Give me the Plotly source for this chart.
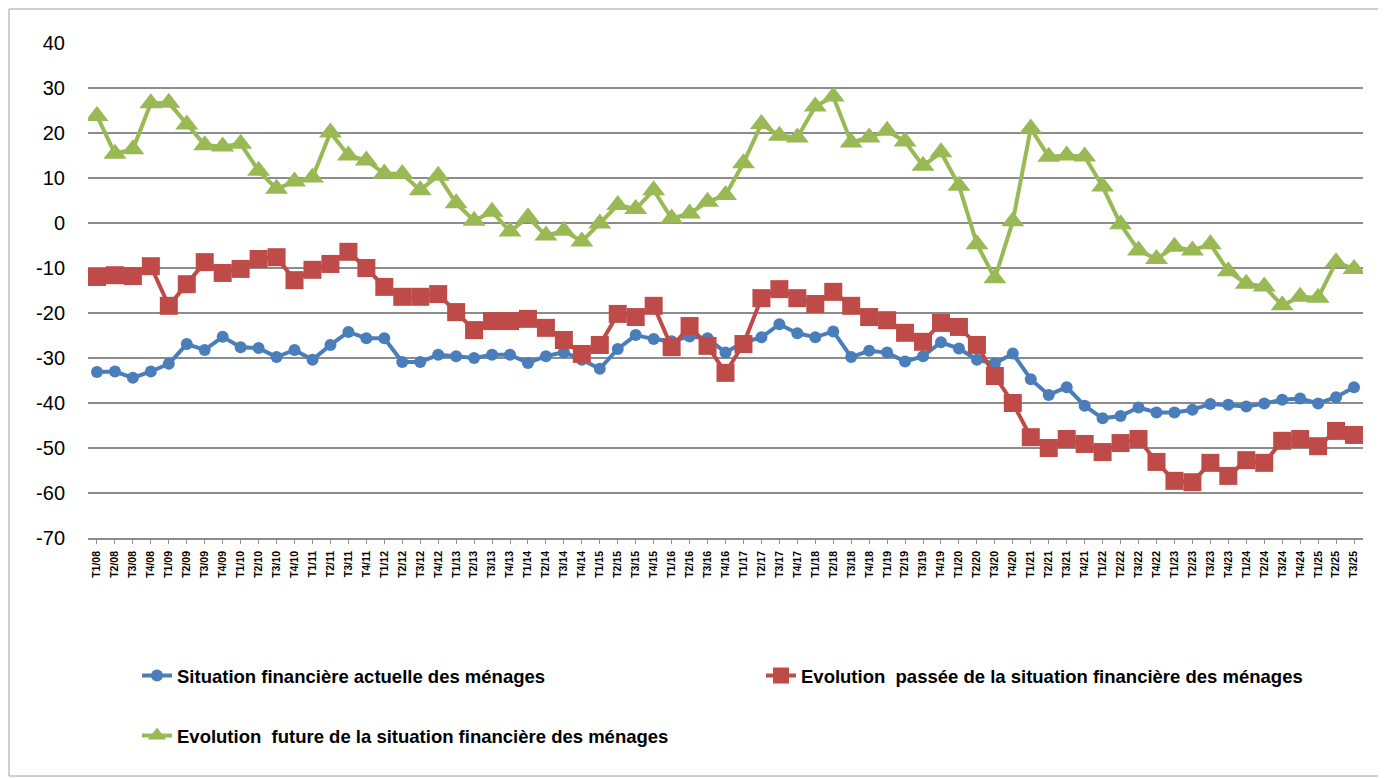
import plotly.graph_objects as go

years = list(range(8, 26))
quarters = []
for yy in years:
    for q in range(1, 5):
        if yy == 25 and q > 3:
            break
        quarters.append(f"T{q}/{yy:02d}")

actuelle = [-33.1, -33.0, -34.4, -33.0, -31.3, -26.9, -28.2, -25.3, -27.6, -27.8,
            -29.8, -28.2, -30.4, -27.1, -24.2, -25.6, -25.6, -30.9, -30.9, -29.3,
            -29.6, -30.0, -29.3, -29.3, -31.1, -29.6, -28.7, -30.4, -32.4, -28.0,
            -24.9, -25.8, -26.3, -25.2, -25.6, -28.8, -26.5, -25.4, -22.5, -24.5,
            -25.4, -24.1, -29.8, -28.4, -28.8, -30.8, -29.6, -26.5, -27.9, -30.4,
            -31.2, -29.0, -34.7, -38.2, -36.5, -40.6, -43.4, -42.9, -41.0, -42.1,
            -42.1, -41.5, -40.2, -40.4, -40.8, -40.1, -39.3, -39.0, -40.1, -38.7,
            -36.5]

passee = [-12.0, -11.6, -11.8, -9.6, -18.4, -13.6, -8.7, -11.1, -10.2, -8.0,
          -7.6, -12.7, -10.4, -9.1, -6.4, -10.0, -14.2, -16.4, -16.4, -15.8,
          -19.8, -23.8, -21.8, -21.8, -21.3, -23.3, -26.0, -29.1, -27.1, -20.2,
          -20.9, -18.4, -27.6, -22.9, -27.3, -33.3, -26.9, -16.7, -14.7, -16.7,
          -18.0, -15.3, -18.4, -20.9, -21.6, -24.4, -26.4, -22.2, -23.1, -27.1,
          -34.0, -40.0, -47.6, -50.0, -48.0, -49.1, -50.9, -48.9, -48.0, -53.1,
          -57.3, -57.6, -53.3, -56.2, -52.7, -53.3, -48.4, -48.0, -49.6, -46.2,
          -47.1]

future = [23.8, 15.4, 16.4, 26.6, 26.7, 21.9, 17.3, 17.0, 17.6, 11.6,
          7.6, 9.2, 10.1, 20.1, 15.0, 13.9, 11.0, 10.9, 7.3, 10.5,
          4.4, 0.5, 2.5, -1.9, 1.3, -2.8, -1.7, -4.1, -0.1, 4.0,
          3.1, 7.3, 1.0, 2.1, 4.7, 6.2, 13.3, 22.0, 19.4, 19.0,
          25.9, 28.1, 17.9, 19.0, 20.5, 18.1, 12.7, 15.7, 8.3, -4.7,
          -12.3, 0.4, 21.0, 14.7, 15.0, 14.8, 8.1, -0.3, -6.1, -8.0,
          -5.3, -6.1, -4.7, -10.7, -13.5, -14.1, -18.3, -16.4, -16.6, -8.7,
          -10.2]

series_names = [
    "Situation financière actuelle des ménages",
    "Evolution  passée de la situation financière des ménages",
    "Evolution  future de la situation financière des ménages",
]

y_tick_vals = [40, 30, 20, 10, 0, -10, -20, -30, -40, -50, -60, -70]
y_tick_text = ["40", "30", "20", "10", "0", "-10", "-20", "-30", "-40", "-50", "-60", "-70"]

BLUE = "#4A7EBB"
RED = "#BE4B48"
GREEN = "#98B954"

# page offset of the figure inside the browser (default body margin)
OFF = 8
W, H = 1386 - OFF, 778 - OFF
L, T, PW, PH = 88, 43, 1275, 495   # plot area in page px


def px(page_x):
    return (page_x - L) / PW


def py(page_y):
    return (T + PH - page_y) / PH


fig = go.Figure()
fig.add_trace(go.Scatter(
    x=quarters, y=actuelle, name=series_names[0], mode="lines+markers",
    line=dict(color=BLUE, width=4),
    marker=dict(symbol="circle", size=12, color=BLUE),
    legend="legend", showlegend=True,
))
fig.add_trace(go.Scatter(
    x=quarters, y=passee, name=series_names[1], mode="lines+markers",
    line=dict(color=RED, width=4),
    marker=dict(symbol="square", size=18, color=RED),
    legend="legend3", showlegend=True,
))
fig.add_trace(go.Scatter(
    x=quarters, y=future, name=series_names[2], mode="lines+markers",
    line=dict(color=GREEN, width=4),
    marker=dict(symbol="triangle-up", size=20, color=GREEN),
    legend="legend2", showlegend=True,
))

legend_font = dict(size=18.5, family="Liberation Sans, Arial", weight="bold")

fig.update_layout(
    width=W, height=H, showlegend=True,
    margin=dict(l=L - OFF, r=W - (L + PW - OFF), t=T - OFF, b=H - (T + PH - OFF)),
    paper_bgcolor="white", plot_bgcolor="white",
    font=dict(family="Liberation Sans, Arial, sans-serif", color="#000000"),
    xaxis=dict(
        type="category", range=[-0.5, len(quarters) - 0.5],
        tickangle=-90, tickfont=dict(size=10.5, family="Liberation Sans, Arial", weight="bold"),
        showgrid=False, showline=True, linecolor="#8C8C8C", linewidth=1.5,
        ticks="outside", ticklen=4, tickcolor="#8C8C8C", ticklabelstandoff=3,
        fixedrange=True,
    ),
    yaxis=dict(
        range=[-70, 40], tickvals=y_tick_vals, ticktext=y_tick_text,
        tickfont=dict(size=20, family="Liberation Sans, Arial"),
        showgrid=True, gridcolor="#8C8C8C", gridwidth=1.5,
        zeroline=False, showline=False, ticks="", ticklabelstandoff=22,
    ),
    legend=dict(
        orientation="h", x=px(137), xanchor="left",
        y=py(676), yanchor="middle",
        font=legend_font, bgcolor="rgba(0,0,0,0)", visible=True,
    ),
    legend3=dict(
        orientation="h", x=px(761), xanchor="left",
        y=py(676), yanchor="middle",
        font=legend_font, bgcolor="rgba(0,0,0,0)",
    ),
    legend2=dict(
        orientation="h", x=px(137), xanchor="left",
        y=py(736), yanchor="middle",
        font=legend_font, bgcolor="rgba(0,0,0,0)",
    ),
    shapes=[dict(
        type="rect", xref="paper", yref="paper",
        x0=px(9), x1=px(1384),
        y0=py(776), y1=py(9),
        line=dict(color="#A0A0A0", width=1), layer="below",
    )],
)

fig.write_html("out.html")
